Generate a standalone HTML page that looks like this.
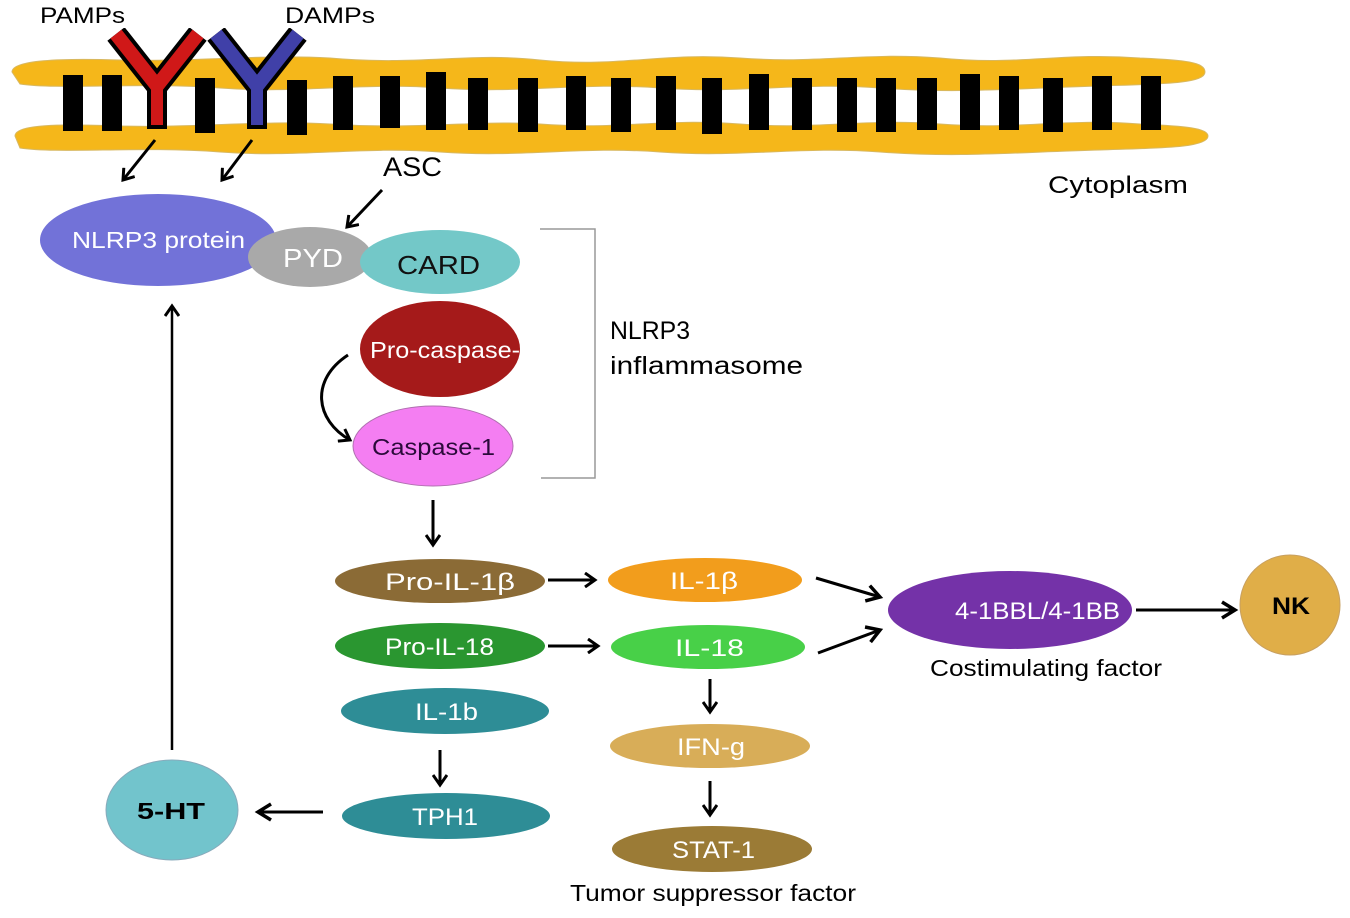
<!DOCTYPE html>
<html><head><meta charset="utf-8"><style>
html,body{margin:0;padding:0;background:#fff;}
svg{display:block;}
text{font-family:"Liberation Sans",Arial,sans-serif;}
</style></head><body>
<svg width="1350" height="918" viewBox="0 0 1350 918" xmlns="http://www.w3.org/2000/svg">
<defs>
<marker id="ah" markerWidth="16" markerHeight="16" refX="12" refY="8" orient="auto" markerUnits="userSpaceOnUse">
<path d="M2,1 L12,8 L2,15" fill="none" stroke="#000" stroke-width="3"/>
</marker>
<marker id="ah2" markerWidth="20" markerHeight="20" refX="15" refY="10" orient="auto" markerUnits="userSpaceOnUse">
<path d="M2,2 L15,10 L2,18" fill="none" stroke="#000" stroke-width="3.5"/>
</marker>
</defs>
<!-- membrane -->
<path d="M12,72 C12,60 60,58 120,60 C200,62 260,54 330,58 C420,66 470,52 540,60 C620,68 660,52 740,58 C820,64 860,52 940,58 C1020,66 1060,52 1140,58 C1185,60 1205,62 1205,72 C1205,84 1160,84 1100,86 C1020,88 960,94 880,88 C800,82 740,94 660,88 C580,82 520,94 440,88 C360,82 300,94 220,88 C140,82 60,90 20,84 Z" fill="#f5b71a" stroke="#d8b860" stroke-width="1"/>
<path d="M15,136 C15,124 60,124 120,126 C200,128 260,120 330,124 C420,130 470,120 540,124 C620,130 660,118 740,124 C820,130 860,118 940,124 C1020,130 1060,118 1140,124 C1185,126 1208,128 1208,136 C1208,148 1160,148 1100,150 C1020,152 960,158 880,152 C800,146 740,158 660,152 C580,146 520,158 440,152 C360,146 300,158 220,152 C140,146 60,154 20,148 Z" fill="#f5b71a" stroke="#d8b860" stroke-width="1"/>
<g fill="#000">
<rect x="63" y="75" width="20" height="56"/><rect x="102" y="75" width="20" height="56"/>
<rect x="195" y="78" width="20" height="55"/><rect x="287" y="80" width="20" height="55"/>
<rect x="333" y="76" width="20" height="54"/><rect x="380" y="76" width="20" height="52"/>
<rect x="426" y="72" width="20" height="58"/><rect x="468" y="78" width="20" height="52"/>
<rect x="518" y="78" width="20" height="54"/><rect x="566" y="76" width="20" height="54"/>
<rect x="611" y="78" width="20" height="54"/><rect x="656" y="76" width="20" height="54"/>
<rect x="702" y="78" width="20" height="56"/><rect x="749" y="74" width="20" height="56"/>
<rect x="792" y="78" width="20" height="52"/><rect x="837" y="78" width="20" height="54"/>
<rect x="876" y="78" width="20" height="54"/><rect x="917" y="78" width="20" height="52"/>
<rect x="960" y="74" width="20" height="56"/><rect x="999" y="76" width="20" height="54"/>
<rect x="1043" y="78" width="20" height="54"/><rect x="1092" y="76" width="20" height="54"/>
<rect x="1141" y="76" width="20" height="54"/>
</g>
<!-- receptors -->
<path d="M116,34 L157,86 L198,34" fill="none" stroke="#000" stroke-width="22" stroke-linejoin="miter"/>
<path d="M157,86 L157,129" stroke="#000" stroke-width="20"/>
<path d="M116,34 L157,86 L198,34" fill="none" stroke="#d01818" stroke-width="14"/>
<path d="M157,86 L157,125" stroke="#d01818" stroke-width="12"/>
<path d="M216,34 L257,86 L298,34" fill="none" stroke="#000" stroke-width="22"/>
<path d="M257,86 L257,129" stroke="#000" stroke-width="20"/>
<path d="M216,34 L257,86 L298,34" fill="none" stroke="#4040a8" stroke-width="14"/>
<path d="M257,86 L257,125" stroke="#4040a8" stroke-width="12"/>
<rect x="100" y="0" width="210" height="28" fill="#fff"/>
<text x="40" y="23" font-size="22" textLength="85" lengthAdjust="spacingAndGlyphs">PAMPs</text>
<text x="285" y="23" font-size="22" textLength="90" lengthAdjust="spacingAndGlyphs">DAMPs</text>
<text x="1048" y="193" font-size="24" textLength="140" lengthAdjust="spacingAndGlyphs">Cytoplasm</text>
<!-- arrows top -->
<g stroke="#000" stroke-width="3" fill="none">
<line x1="155" y1="140" x2="123" y2="180" marker-end="url(#ah)"/>
<line x1="252" y1="140" x2="222" y2="180" marker-end="url(#ah)"/>
<line x1="382" y1="190" x2="347" y2="227" marker-end="url(#ah)"/>
</g>
<text x="383" y="176" font-size="27" textLength="59" lengthAdjust="spacingAndGlyphs">ASC</text>
<!-- complex -->
<ellipse cx="158" cy="240" rx="118" ry="46" fill="#7272d8"/>
<text x="72" y="248" font-size="23" fill="#fff" textLength="173" lengthAdjust="spacingAndGlyphs">NLRP3 protein</text>
<ellipse cx="310" cy="257" rx="62" ry="30" fill="#a9a9a9"/>
<text x="283" y="267" font-size="26" fill="#fff" textLength="60" lengthAdjust="spacingAndGlyphs">PYD</text>
<ellipse cx="440" cy="262" rx="80" ry="32" fill="#73c8c8"/>
<text x="397" y="274" font-size="26" fill="#111" textLength="83" lengthAdjust="spacingAndGlyphs">CARD</text>
<ellipse cx="440" cy="349" rx="80" ry="48" fill="#a51a1a"/>
<text x="370" y="358" font-size="23" fill="#fff" textLength="150" lengthAdjust="spacingAndGlyphs">Pro-caspase-</text>
<ellipse cx="433" cy="446" rx="80" ry="40" fill="#f47ef2" stroke="#b070b0" stroke-width="1"/>
<text x="372" y="455" font-size="23" fill="#2a0a3a" textLength="123" lengthAdjust="spacingAndGlyphs">Caspase-1</text>
<path d="M540,229 L595,229 L595,478 L541,478" fill="none" stroke="#999" stroke-width="1.5"/>
<text x="610" y="339" font-size="25" textLength="80" lengthAdjust="spacingAndGlyphs">NLRP3</text>
<text x="610" y="374" font-size="25" textLength="193" lengthAdjust="spacingAndGlyphs">inflammasome</text>
<path d="M348,355 C310,380 315,420 350,440" fill="none" stroke="#000" stroke-width="3" marker-end="url(#ah)"/>
<g stroke="#000" stroke-width="3" fill="none">
<line x1="433" y1="500" x2="433" y2="545" marker-end="url(#ah)"/>
<line x1="548" y1="580" x2="595" y2="580" marker-end="url(#ah)"/>
<line x1="548" y1="646" x2="598" y2="646" marker-end="url(#ah)"/>
<line x1="710" y1="679" x2="710" y2="712" marker-end="url(#ah)"/>
<line x1="710" y1="781" x2="710" y2="815" marker-end="url(#ah)"/>
<line x1="440" y1="750" x2="440" y2="785" marker-end="url(#ah)"/>
<line x1="816" y1="578" x2="880" y2="597" marker-end="url(#ah2)"/>
<line x1="818" y1="653" x2="880" y2="630" marker-end="url(#ah2)"/>
<line x1="1136" y1="610" x2="1235" y2="610" marker-end="url(#ah2)"/>
<line x1="323" y1="812" x2="258" y2="812" marker-end="url(#ah2)"/>
<line x1="172" y1="750" x2="172" y2="306" stroke-width="2.5" marker-end="url(#ah)"/>
</g>
<!-- lower nodes -->
<g font-size="24" fill="#fff" lengthAdjust="spacingAndGlyphs">
<ellipse cx="440" cy="581" rx="105" ry="22" fill="#8b6b36"/><text x="385" y="590" textLength="130" lengthAdjust="spacingAndGlyphs">Pro-IL-1β</text>
<ellipse cx="440" cy="646" rx="105" ry="23" fill="#2a9630"/><text x="385" y="655" textLength="109" lengthAdjust="spacingAndGlyphs">Pro-IL-18</text>
<ellipse cx="445" cy="711" rx="104" ry="23" fill="#2e8d96"/><text x="415" y="720" textLength="63" lengthAdjust="spacingAndGlyphs">IL-1b</text>
<ellipse cx="446" cy="816" rx="104" ry="23" fill="#2e8d96"/><text x="412" y="825" textLength="66" lengthAdjust="spacingAndGlyphs">TPH1</text>
<ellipse cx="705" cy="580" rx="97" ry="22" fill="#f29d1c"/><text x="670" y="589" textLength="68" lengthAdjust="spacingAndGlyphs">IL-1β</text>
<ellipse cx="708" cy="647" rx="97" ry="22" fill="#48d048"/><text x="675" y="656" textLength="69" lengthAdjust="spacingAndGlyphs">IL-18</text>
<ellipse cx="710" cy="746" rx="100" ry="22" fill="#d8ad58"/><text x="677" y="755" textLength="68" lengthAdjust="spacingAndGlyphs">IFN-g</text>
<ellipse cx="712" cy="849" rx="100" ry="23" fill="#9b7b36"/><text x="672" y="858" textLength="83" lengthAdjust="spacingAndGlyphs">STAT-1</text>
<ellipse cx="1010" cy="610" rx="122" ry="39" fill="#7432a8"/><text x="955" y="619" textLength="165" lengthAdjust="spacingAndGlyphs">4-1BBL/4-1BB</text>
</g>
<circle cx="1290" cy="605" r="50" fill="#e0ae48" stroke="#c8a060"/>
<text x="1272" y="614" font-size="24" font-weight="bold" textLength="38" lengthAdjust="spacingAndGlyphs">NK</text>
<ellipse cx="172" cy="810" rx="66" ry="50" fill="#72c4cc" stroke="#8ab"/>
<text x="137" y="819" font-size="23" font-weight="bold" textLength="68" lengthAdjust="spacingAndGlyphs">5-HT</text>
<text x="930" y="676" font-size="23" textLength="232" lengthAdjust="spacingAndGlyphs">Costimulating factor</text>
<text x="570" y="901" font-size="23" textLength="286" lengthAdjust="spacingAndGlyphs">Tumor suppressor factor</text>
</svg>
</body></html>
